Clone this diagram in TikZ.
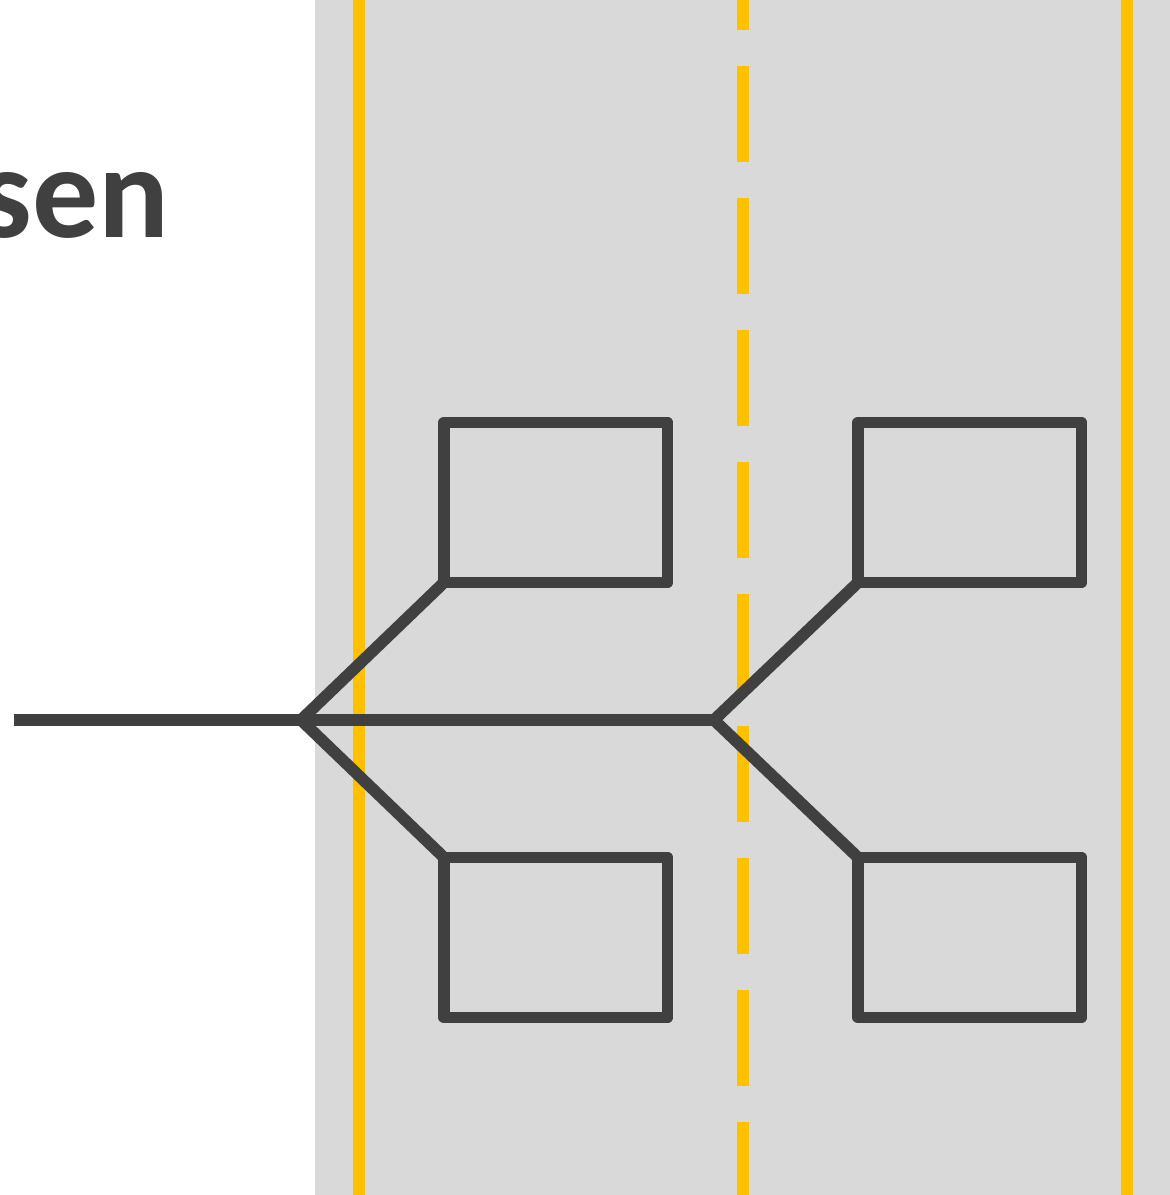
\documentclass[tikz,border=0pt]{standalone}
\usepackage{fontspec}
\setmainfont{Carlito}
\usepackage{xcolor}
\usetikzlibrary{positioning}
\definecolor{road}{HTML}{D9D9D9}
\definecolor{lane}{HTML}{FFC000}
\definecolor{ink}{HTML}{404040}

\begin{document}
\begin{tikzpicture}
[x=0.5pt, y=-0.5pt,
box-a/.style={rectangle, draw=ink, line width=5.85pt, line join=round, minimum width=111.75pt, minimum height=80pt, inner sep=0pt, outer sep=0pt},
wire-a/.style={draw=ink, line width=5.85pt, line join=miter},
lane-a/.style={draw=lane, line width=6pt},
text-a/.style={font=\bfseries\fontsize{66}{66}\selectfont, text=ink, inner sep=0pt},]
\fill [white] (0,0) rectangle (1170,1195);
\useasboundingbox (0,0) rectangle (1170,1195);
\fill [road] (315,0) rectangle (1170,1195);
\draw [lane-a] (358.5,0) -- (358.5,1195);
\draw [lane-a] (1127,0) -- (1127,1195);
\draw [lane-a, dash pattern=on 48pt off 18pt, dash phase=33pt] (743,0) -- (743,1195);
\node (title) [text-a, anchor=base east] at (170,237) {sen};
\node (box-1) [box-a] at (555.75,502.5) {};
\node (box-2) [box-a, below = 137.5pt of box-1] {};
\node (box-3) [box-a, right = 95.25pt of box-1] {};
\node (box-4) [box-a, below = 137.5pt of box-3] {};
\coordinate (stem) at (14,720);
\coordinate (fork-1) at (301,720);
\coordinate (fork-2) at (714,720);
\draw [wire-a] (stem) -- (fork-2);
\draw [wire-a] (box-1.south west) -- (fork-1) -- (box-2.north west);
\draw [wire-a] (box-3.south west) -- (fork-2) -- (box-4.north west);
\end{tikzpicture}
\end{document}
